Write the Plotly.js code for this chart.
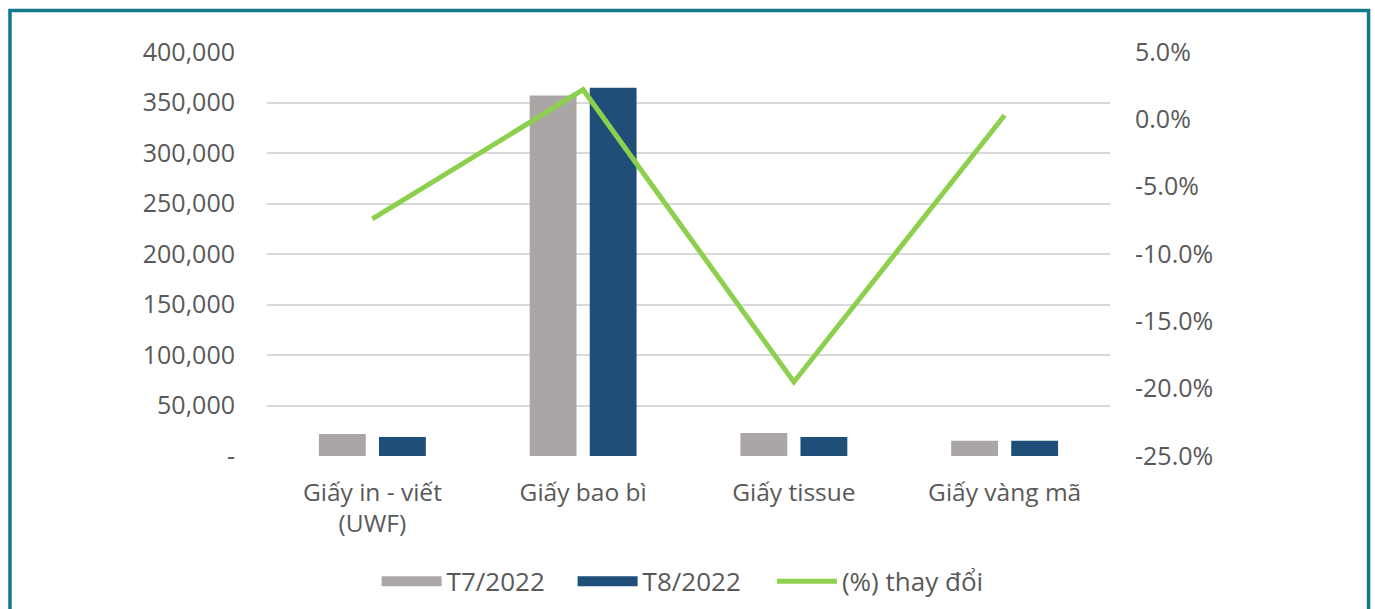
<!DOCTYPE html>
<html>
<head>
<meta charset="utf-8">
<script src="https://cdn.plot.ly/plotly-3.0.1.min.js"></script>
<style>
  html, body { margin: 0; padding: 0; background: #fff; }
  #plot { width: 1375px; height: 609px; }
</style>
</head>
<body>
<div id="plot"></div>
<script>
// categories and series
var categories = ['Giấy in - viết<br>(UWF)', 'Giấy bao bì', 'Giấy tissue', 'Giấy vàng mã'];
var t7 = [21800, 357000, 22800, 15200];
var t8 = [18800, 364500, 18800, 15000];
var pctChange = [-0.074, 0.022, -0.195, 0.003];

var seriesNames = ['T7/2022', 'T8/2022', '(%) thay đổi'];

// tick labels
var leftTickVals = [0, 50000, 100000, 150000, 200000, 250000, 300000, 350000, 400000];
var leftTickText = ['-', '50,000', '100,000', '150,000', '200,000', '250,000', '300,000', '350,000', '400,000'];
var rightTickVals = [-0.25, -0.20, -0.15, -0.10, -0.05, 0, 0.05];
var rightTickText = ['-25.0%', '-20.0%', '-15.0%', '-10.0%', '-5.0%', '0.0%', '5.0%'];

var grey = '#aaa6a5';
var navy = '#1f4e79';
var green = '#8cd04e';
var textCol = '#595959';

var barT7 = {
    x: categories, y: t7, type: 'bar', name: seriesNames[0],
    marker: {color: grey}, showlegend: false, hoverinfo: 'skip'
};
var barT8 = {
    x: categories, y: t8, type: 'bar', name: seriesNames[1],
    marker: {color: navy}, showlegend: false, hoverinfo: 'skip'
};
var line = {
    x: categories, y: pctChange, type: 'scatter', mode: 'lines', name: seriesNames[2],
    yaxis: 'y2', line: {color: green, width: 5}, legend: 'legend2'
};

// legend-only entries so the bar swatches are long rectangles like the original
var legT7 = {
    x: [null], y: [null], type: 'scatter', mode: 'lines', name: seriesNames[0],
    line: {color: grey, width: 14}, legendrank: 1
};
var legT8 = {
    x: [null], y: [null], type: 'scatter', mode: 'lines', name: seriesNames[1],
    line: {color: navy, width: 14}, legendrank: 2
};

var data = [barT7, barT8, line, legT7, legT8];

var legendFont = {size: 26, color: textCol};

var layout = {
    width: 1375,
    height: 609,
    margin: {l: 267, r: 265, t: 52, b: 153, autoexpand: false},
    paper_bgcolor: '#fff',
    plot_bgcolor: '#fff',
    font: {family: 'Open Sans, sans-serif', size: 25, color: textCol},
    barmode: 'group',
    bargap: 0.43,
    bargroupgap: 0.22,
    showlegend: true,
    legend: {
        orientation: 'h', x: 0.13, xanchor: 'left', y: -0.31, yanchor: 'middle',
        font: legendFont, itemwidth: 60, traceorder: 'normal',
        entrywidth: 121, entrywidthmode: 'pixels'
    },
    legend2: {
        orientation: 'h', x: 0.599, xanchor: 'left', y: -0.31, yanchor: 'middle',
        font: legendFont, itemwidth: 60
    },
    xaxis: {
        type: 'category',
        showgrid: false, showline: false, zeroline: false, ticks: '',
        tickfont: {size: 24.5, color: textCol},
        ticklabelstandoff: 19
    },
    yaxis: {
        range: [0, 400000],
        tickvals: leftTickVals, ticktext: leftTickText,
        showgrid: true, gridcolor: '#d9d9d9', gridwidth: 2,
        zeroline: false, showline: false, ticks: '',
        tickfont: {size: 25, color: textCol},
        ticklabelstandoff: 31
    },
    yaxis2: {
        overlaying: 'y', side: 'right',
        range: [-0.25, 0.05],
        tickvals: rightTickVals, ticktext: rightTickText,
        showgrid: false, zeroline: false, showline: false, ticks: '',
        tickfont: {size: 25, color: textCol},
        ticklabelstandoff: 24
    },
    shapes: [{
        type: 'rect', xref: 'paper', yref: 'paper',
        x0: -0.3049, x1: 1.3067, y0: -0.45, y1: 1.1027,
        line: {color: '#11788a', width: 3.5}, fillcolor: 'rgba(0,0,0,0)', layer: 'below'
    }]
};

Plotly.newPlot('plot', data, layout, {staticPlot: true});
</script>
</body>
</html>
